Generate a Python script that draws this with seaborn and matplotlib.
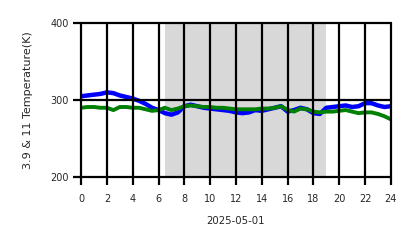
import matplotlib
matplotlib.use("Agg")
import matplotlib.pyplot as plt
import seaborn as sns
import pandas as pd

hours = [0, 0.5, 1, 1.5, 2, 2.5, 3, 3.5, 4, 4.5, 5, 5.5, 6, 6.5, 7, 7.5, 8, 8.5,
         9, 9.5, 10, 10.5, 11, 11.5, 12, 12.5, 13, 13.5, 14, 14.5, 15, 15.5, 16,
         16.5, 17, 17.5, 18, 18.5, 19, 19.5, 20, 20.5, 21, 21.5, 22, 22.5, 23, 23.5, 24]
temp_39 = [305, 306, 307, 308, 310, 309, 306, 304, 302, 299, 295, 290, 287, 283, 281,
           284, 292, 294, 292, 290, 289, 288, 287, 286, 284, 283, 284, 287, 286, 288,
           290, 292, 285, 287, 290, 288, 283, 282, 290, 291, 292, 293, 291, 292, 296,
           296, 293, 291, 292]
temp_11 = [290, 291, 291, 290, 290, 287, 291, 291, 290, 290, 288, 286, 287, 290, 287,
           289, 292, 293, 292, 291, 291, 290, 290, 289, 288, 288, 288, 288, 289, 289,
           290, 292, 287, 285, 289, 288, 285, 284, 285, 285, 286, 287, 285, 283, 284,
           284, 282, 279, 275]
day_span = [6.5, 19]
xticks = list(range(0, 25, 2))
yticks = [200, 300, 400]

df = pd.DataFrame({"hour": hours, "b39": temp_39, "b11": temp_11})

sns.set_style("ticks")
plt.rcParams['font.family'] = ['DejaVu Sans']
fig = plt.figure(figsize=(4.18, 2.48), dpi=100)
ax = fig.add_axes([0.194, 0.286, 0.741, 0.621])

ax.axvspan(day_span[0], day_span[1], color="gray", alpha=0.3, zorder=0, lw=0)
sns.lineplot(data=df, x="hour", y="b39", ax=ax, color="blue", lw=3.2, zorder=1.5)
sns.lineplot(data=df, x="hour", y="b11", ax=ax, color="green", lw=2.8, zorder=1.6)

ax.set_xlim(0, 24)
ax.set_ylim(200, 400)
ax.set_xticks(xticks)
ax.set_yticks(yticks)
ax.grid(True, color="black", lw=1.6)
ax.set_axisbelow(False)
for ln in ax.get_xgridlines() + ax.get_ygridlines():
    ln.set_clip_on(False)
for s in ax.spines.values():
    s.set_visible(False)
ax.xaxis.set_ticks_position("bottom")
ax.yaxis.set_ticks_position("left")
ax.tick_params(axis="both", which="major", direction="out", length=6, width=1.6,
               color="black", labelsize=7, pad=3)
ax.tick_params(axis="x", pad=6)
ax.set_xlabel("2025-05-01", fontsize=7.3, labelpad=9)
ax.set_ylabel("3.9 & 11 Temperature(K)", fontsize=8, labelpad=12)
fig.savefig("out.png", dpi=100)
